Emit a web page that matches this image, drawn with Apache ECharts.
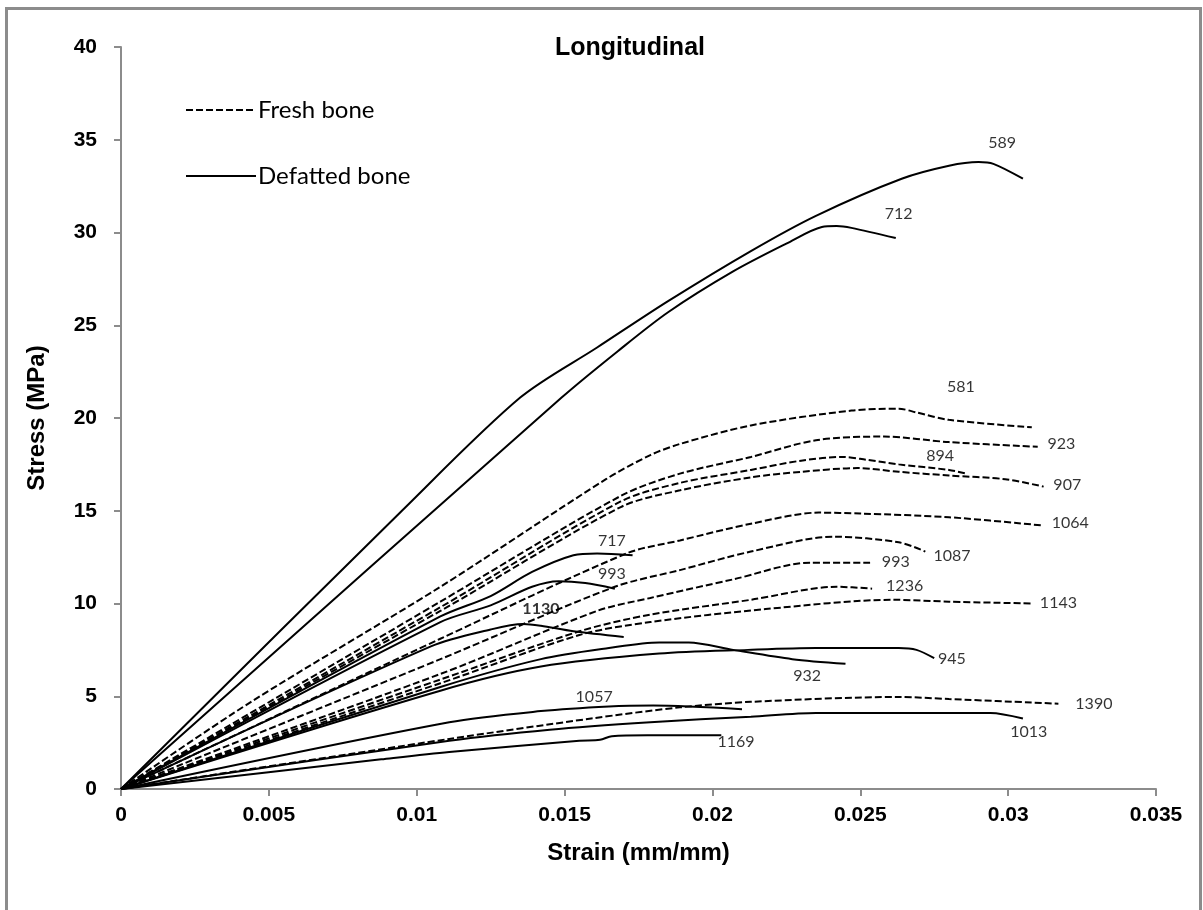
<!DOCTYPE html>
<html>
<head>
<meta charset="utf-8">
<title>Longitudinal</title>
<script src="https://cdn.jsdelivr.net/npm/echarts@6/dist/echarts.min.js"></script>
<style>
    html, body { margin: 0; padding: 0; background: #fff; }
    #chart { width: 1203px; height: 910px; }
</style>
</head>
<body>
<div id="chart"></div>
<script>
    // strain (mm/mm), stress (MPa)
    // fresh bone - dashed
    const fresh581 = [[0, 0], [0.0044, 4.7], [0.0108, 10.9], [0.0164, 16.7], [0.0179, 18.0], [0.0189, 18.6], [0.0213, 19.6], [0.0247, 20.4], [0.0263, 20.5], [0.0269, 20.3], [0.028, 19.9], [0.0308, 19.5]]
    const fresh923 = [[0, 0], [0.0108, 10.1], [0.0169, 15.8], [0.0189, 17.0], [0.0213, 17.9], [0.0235, 18.8], [0.0258, 19.0], [0.028, 18.7], [0.031, 18.45]]
    const fresh894 = [[0, 0], [0.0108, 9.8], [0.0169, 15.5], [0.0189, 16.5], [0.0213, 17.2], [0.023, 17.7], [0.0244, 17.9], [0.0252, 17.75], [0.0263, 17.5], [0.028, 17.2], [0.0286, 17.0]]
    const fresh907 = [[0, 0], [0.0108, 9.6], [0.0169, 15.2], [0.0189, 16.1], [0.0213, 16.8], [0.023, 17.1], [0.0249, 17.3], [0.0263, 17.1], [0.028, 16.9], [0.0299, 16.7], [0.0312, 16.3]]
    const fresh1064 = [[0, 0], [0.0108, 8.1], [0.0171, 12.7], [0.0189, 13.4], [0.0213, 14.3], [0.0236, 14.9], [0.025, 14.85], [0.028, 14.65], [0.0312, 14.2]]
    const fresh1087 = [[0, 0], [0.0108, 7.0], [0.0167, 10.9], [0.0189, 11.8], [0.0213, 12.8], [0.0241, 13.6], [0.0263, 13.3], [0.0272, 12.8]]
    const fresh993 = [[0, 0], [0.0108, 6.2], [0.0161, 9.6], [0.0179, 10.3], [0.0207, 11.3], [0.0233, 12.2], [0.0254, 12.2]]
    const fresh1236 = [[0, 0], [0.0108, 5.9], [0.0155, 8.5], [0.0179, 9.4], [0.0213, 10.2], [0.0242, 10.9], [0.0254, 10.8]]
    const fresh1143 = [[0, 0], [0.0108, 5.7], [0.0155, 8.3], [0.0179, 9.0], [0.0218, 9.7], [0.0261, 10.2], [0.028, 10.1], [0.0308, 10.0]]
    const fresh1390 = [[0, 0], [0.0111, 2.7], [0.0159, 3.8], [0.0189, 4.4], [0.0213, 4.7], [0.0263, 4.96], [0.028, 4.85], [0.0317, 4.6]]

    // defatted bone - solid
    const def589 = [[0, 0], [0.0095, 15.0], [0.0135, 21.1], [0.0161, 23.8], [0.0185, 26.3], [0.0213, 29.0], [0.0235, 30.9], [0.0264, 32.9], [0.028, 33.6], [0.029, 33.8], [0.0295, 33.7], [0.0305, 32.9]]
    const def712 = [[0, 0], [0.0149, 21.1], [0.0168, 23.6], [0.0185, 25.7], [0.0207, 27.9], [0.0225, 29.4], [0.0237, 30.3], [0.0242, 30.35], [0.0247, 30.25], [0.0262, 29.7]]
    const def717 = [[0, 0], [0.0108, 9.3], [0.0125, 10.4], [0.0139, 11.7], [0.0153, 12.6], [0.0161, 12.7], [0.0173, 12.6]]
    const def993 = [[0, 0], [0.0108, 9.0], [0.0125, 9.9], [0.0139, 10.9], [0.0148, 11.2], [0.0157, 11.1], [0.0167, 10.8]]
    const def1130 = [[0, 0], [0.0105, 7.7], [0.0125, 8.6], [0.0136, 8.9], [0.0142, 8.8], [0.0153, 8.5], [0.017, 8.2]]
    const def932 = [[0, 0], [0.0108, 5.5], [0.0142, 7.0], [0.0165, 7.6], [0.0182, 7.9], [0.0192, 7.9], [0.0207, 7.5], [0.0227, 7.0], [0.0245, 6.75]]
    const def945 = [[0, 0], [0.0108, 5.3], [0.0142, 6.6], [0.0182, 7.3], [0.0212, 7.5], [0.0235, 7.6], [0.0263, 7.6], [0.0269, 7.5], [0.0275, 7.05]]
    const def1057 = [[0, 0], [0.0111, 3.6], [0.0142, 4.2], [0.0165, 4.45], [0.018, 4.5], [0.021, 4.3]]
    const def1013 = [[0, 0], [0.0111, 2.6], [0.0145, 3.2], [0.0179, 3.6], [0.0213, 3.9], [0.0235, 4.1], [0.028, 4.1], [0.0294, 4.1], [0.0305, 3.8]]
    const def1169 = [[0, 0], [0.0088, 1.6], [0.0111, 2.0], [0.0155, 2.6], [0.0162, 2.65], [0.0166, 2.85], [0.0178, 2.9], [0.0203, 2.9]]

    const freshCurves = [fresh581, fresh923, fresh894, fresh907, fresh1064, fresh1087, fresh993, fresh1236, fresh1143, fresh1390]
    const defCurves = [def589, def712, def717, def993, def1130, def932, def945, def1057, def1013, def1169]

    // specimen labels and where they sit (strain, stress)
    const labelText = ['589', '712', '581', '923', '894', '907', '1064', '1087', '993', '1236', '1143', '945', '932', '1390', '1013', '1169', '1057', '1130', '993', '717']
    const labelPos = [[0.0298, 34.86], [0.0263, 31.0], [0.0284, 21.66], [0.0318, 18.59], [0.0277, 17.94], [0.032, 16.38], [0.0321, 14.33], [0.0281, 12.55], [0.0262, 12.23], [0.0265, 10.94], [0.0317, 10.02], [0.0281, 7.0], [0.0232, 6.09], [0.0329, 4.58], [0.0307, 3.07], [0.0208, 2.53], [0.016, 4.96], [0.0142, 9.7], [0.0166, 11.58], [0.0166, 13.36]]

    const xTicks = { min: 0, max: 0.035, interval: 0.005 }
    const yTicks = { min: 0, max: 40, interval: 5 }

    const chart = echarts.init(document.getElementById('chart'))

    const series = []
    freshCurves.forEach(d => {
        series.push({
            name: 'Fresh bone',
            type: 'line',
            data: d,
            symbol: 'none',
            smooth: 0.3,
            lineStyle: { color: '#000', width: 2, type: [7, 3] },
            itemStyle: { color: '#000' }
        })
    })
    defCurves.forEach(d => {
        series.push({
            name: 'Defatted bone',
            type: 'line',
            data: d,
            symbol: 'none',
            smooth: 0.3,
            lineStyle: { color: '#000', width: 2, type: 'solid' },
            itemStyle: { color: '#000' }
        })
    })
    series.push({
        name: 'labels',
        type: 'scatter',
        symbolSize: 0,
        silent: true,
        z: 5,
        data: labelPos.map((p, i) => ({
            value: [p[0], p[1], labelText[i]],
            label: labelText[i] === '1130' ? { fontWeight: 'bold' } : undefined
        })),
        label: {
            show: true,
            position: 'inside',
            formatter: p => p.value[2],
            color: '#000',
            fontFamily: 'Lato',
            fontSize: 16
        }
    })

    // legend: line only, no marker dot
    const legendBase = {
        orient: 'vertical',
        left: 180,
        itemWidth: 70,
        itemHeight: 12,
        itemStyle: { color: 'rgba(0,0,0,0)', borderWidth: 0, opacity: 0 },
        textStyle: { fontFamily: 'Lato', fontSize: 24, color: '#000', padding: [0, 0, 0, -3] }
    }

    const option = {
        animation: false,
        backgroundColor: '#fff',
        title: {
            text: 'Longitudinal',
            left: 625,
            top: 31,
            textAlign: 'center',
            textStyle: { fontFamily: 'Liberation Sans', fontWeight: 'bold', fontSize: 25, color: '#000' }
        },
        legend: [
            Object.assign({ data: ['Fresh bone'], top: 93 }, legendBase),
            Object.assign({ data: ['Defatted bone'], top: 159 }, legendBase)
        ],
        grid: { left: 121, right: 47, top: 47, bottom: 121 },
        xAxis: {
            type: 'value',
            min: xTicks.min,
            max: xTicks.max,
            interval: xTicks.interval,
            name: 'Strain (mm/mm)',
            nameLocation: 'middle',
            nameGap: 52,
            nameTextStyle: { fontFamily: 'Liberation Sans', fontWeight: 'bold', fontSize: 24, color: '#000' },
            axisLine: { lineStyle: { color: '#8c8c8c', width: 2 } },
            axisTick: { show: true, length: 7, lineStyle: { color: '#8c8c8c', width: 2 } },
            axisLabel: { margin: 16, fontFamily: 'Liberation Sans', fontWeight: 'bold', fontSize: 21, color: '#000' },
            splitLine: { show: false }
        },
        yAxis: {
            type: 'value',
            min: yTicks.min,
            max: yTicks.max,
            interval: yTicks.interval,
            name: 'Stress (MPa)',
            nameLocation: 'middle',
            nameGap: 72,
            nameTextStyle: { fontFamily: 'Liberation Sans', fontWeight: 'bold', fontSize: 24, color: '#000' },
            axisLine: { show: true, lineStyle: { color: '#8c8c8c', width: 2 } },
            axisTick: { show: true, length: 7, lineStyle: { color: '#8c8c8c', width: 2 } },
            axisLabel: { margin: 24, fontFamily: 'Liberation Sans', fontWeight: 'bold', fontSize: 21, color: '#000' },
            splitLine: { show: false }
        },
        // outer chart frame
        graphic: [{
            type: 'rect',
            left: 4,
            top: 6,
            shape: { width: 1194, height: 930 },
            style: { fill: 'none', stroke: '#8c8c8c', lineWidth: 3 },
            silent: true
        }],
        series: series
    }

    chart.setOption(option)
    window.addEventListener('resize', () => chart.resize())
</script>
</body>
</html>
